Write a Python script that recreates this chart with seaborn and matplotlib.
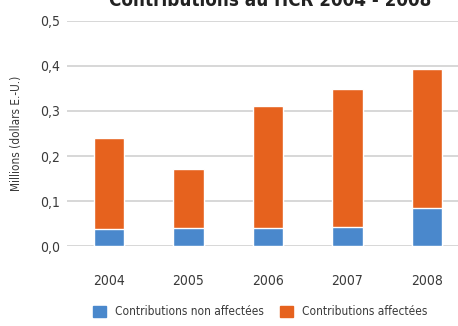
import pandas as pd
import numpy as np
import matplotlib.pyplot as plt
import seaborn as sns
from matplotlib.patches import Patch

# values (millions USD)
years = ['2004', '2005', '2006', '2007', '2008']
non_affectees = [0.038, 0.040, 0.040, 0.044, 0.085]
totals = [0.240, 0.171, 0.312, 0.349, 0.394]
yticks = [0.0, 0.1, 0.2, 0.3, 0.4, 0.5]
ytick_labels = ['0,0', '0,1', '0,2', '0,3', '0,4', '0,5']

blue = '#4a88cc'
orange = '#e6621e'

sns.set_style('white')
plt.rcParams['font.family'] = ['DejaVu Sans']
plt.rcParams['font.stretch'] = 'condensed'

df = pd.DataFrame({'annee': years, 'non': non_affectees, 'total': totals})

fig = plt.figure(figsize=(4.58, 3.26), dpi=100)
ax = fig.add_axes([0.146, 0.244, 0.854, 0.6926])

# total first (orange), then the non-earmarked part over it (blue)
sns.barplot(data=df, x='annee', y='total', color=orange, width=0.38,
            saturation=1, ax=ax, zorder=3)
sns.barplot(data=df, x='annee', y='non', color=blue, width=0.38,
            saturation=1, ax=ax, zorder=4)

ax.set_ylim(0, 0.5)
ax.set_xlim(-0.53, 4.39)
ax.set_yticks(yticks)
ax.set_yticklabels(ytick_labels)
ax.yaxis.grid(True, color='#d4d4d4', linewidth=1.3, zorder=0)
ax.set_axisbelow(True)
for s in ax.spines.values():
    s.set_visible(False)
ax.tick_params(axis='both', length=0, labelsize=10, colors='#3a3a3a')
ax.tick_params(axis='y', pad=5)
ax.tick_params(axis='x', pad=20)
ax.set_xlabel('')
ax.set_ylabel('Millions (dollars E.-U.)', fontsize=8.5, color='#3a3a3a', labelpad=12)

fig.text(0.59, 0.968, 'Contributions au HCR 2004 - 2008', ha='center', va='bottom',
         fontsize=13.5, fontweight='bold', color='#222222')

handles = [Patch(color=blue, label='Contributions non affectées'),
           Patch(color=orange, label='Contributions affectées')]
fig.legend(handles=handles, loc='center', bbox_to_anchor=(0.568, 0.043), ncol=2,
           frameon=False, fontsize=8.6, handlelength=1.1, handleheight=1.1,
           columnspacing=1.3, handletextpad=0.8, labelcolor='#3a3a3a')

fig.savefig('out.png', dpi=100)
